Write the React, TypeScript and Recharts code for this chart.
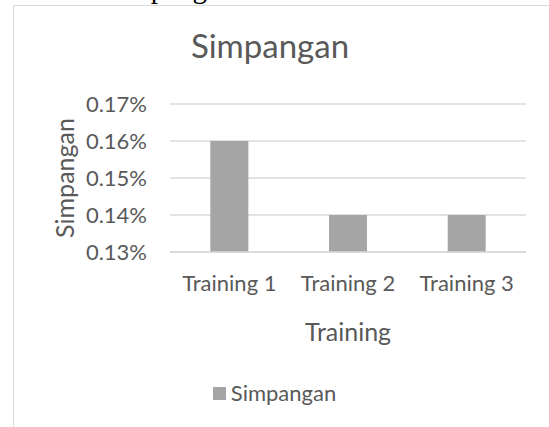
import React from 'react';
import { BarChart, Bar, XAxis, YAxis, CartesianGrid, Legend, Label } from 'recharts';

const categories = ['Training 1', 'Training 2', 'Training 3'];
const simpangan = [0.16, 0.14, 0.14];
const yTicks = [0.13, 0.14, 0.15, 0.16, 0.17];

const data = categories.map((c, i) => ({ name: c, Simpangan: simpangan[i] }));

const FONT = 'Lato, "Open Sans", sans-serif';
const TEXT = '#595959';
const BAR = '#a5a5a5';
const GRID = '#d9d9d9';

const YTitle = (props: any) => {
  const vb = props.viewBox || { x: 0, y: 0, width: 0, height: 0 };
  const cx = vb.x + 64;
  const cy = vb.y + vb.height / 2;
  return (
    <text
      x={cx}
      y={cy}
      transform={`rotate(-90, ${cx}, ${cy})`}
      textAnchor="middle"
      dominantBaseline="central"
      fill={TEXT}
      fontFamily={FONT}
      fontSize={25}
    >
      Simpangan
    </text>
  );
};

const LegendContent = () => (
  <div
    style={{
      display: 'flex',
      justifyContent: 'center',
      alignItems: 'center',
      height: 20,
      fontFamily: FONT,
      fontSize: 22,
      color: TEXT,
      lineHeight: '20px',
    }}
  >
    <span style={{ display: 'inline-block', width: 13, height: 13, background: BAR, marginRight: 5 }} />
    <span>Simpangan</span>
  </div>
);

export default function App() {
  return (
    <div style={{ position: 'absolute', left: 0, top: 0, width: 549, height: 427, overflow: 'hidden', background: '#fff' }}>
      <div
        style={{
          position: 'absolute',
          left: 104,
          top: -26,
          fontFamily: '"Liberation Serif", serif',
          fontSize: 29,
          lineHeight: '29px',
          color: '#000',
          whiteSpace: 'nowrap',
        }}
      >
        Simpangan
      </div>
      <div
        style={{
          position: 'absolute',
          left: 13,
          top: 5,
          width: 700,
          height: 600,
          border: `1px solid ${GRID}`,
          boxSizing: 'border-box',
          background: '#fff',
        }}
      />
      <div
        style={{
          position: 'absolute',
          left: 0,
          width: 540,
          top: 29,
          textAlign: 'center',
          fontFamily: FONT,
          fontSize: 33,
          lineHeight: '33px',
          color: TEXT,
          whiteSpace: 'nowrap',
        }}
      >
        Simpangan
      </div>
      <div style={{ position: 'absolute', left: 0, top: 0 }}>
        <BarChart
          width={549}
          height={427}
          data={data}
          margin={{ top: 104, right: 23, left: 0, bottom: 115 }}
          barCategoryGap="34%"
        >
          <CartesianGrid vertical={false} stroke={GRID} strokeWidth={1.3} />
          <XAxis
            dataKey="name"
            height={60}
            tickLine={false}
            tickSize={0}
            tickMargin={23}
            axisLine={{ stroke: GRID, strokeWidth: 1.3 }}
            tick={{ fill: TEXT, fontFamily: FONT, fontSize: 22 }}
            interval={0}
          >
            <Label
              value="Training"
              position="bottom"
              offset={11}
              fill={TEXT}
              fontFamily={FONT}
              fontSize={25}
            />
          </XAxis>
          <YAxis
            width={170}
            domain={[0.13, 0.17]}
            ticks={yTicks}
            tickFormatter={(v: number) => `${v.toFixed(2)}%`}
            axisLine={false}
            tickLine={false}
            tickSize={0}
            tickMargin={23}
            tick={{ fill: TEXT, fontFamily: FONT, fontSize: 22 }}
            allowDataOverflow
          >
            <Label content={<YTitle />} />
          </YAxis>
          <Bar dataKey="Simpangan" fill={BAR} isAnimationActive={false} />
          <Legend
            layout="horizontal"
            verticalAlign="middle"
            align="center"
            content={<LegendContent />}
            wrapperStyle={{ position: 'absolute', top: 383, left: 0, width: 549, margin: 0 }}
          />
        </BarChart>
      </div>
    </div>
  );
}
